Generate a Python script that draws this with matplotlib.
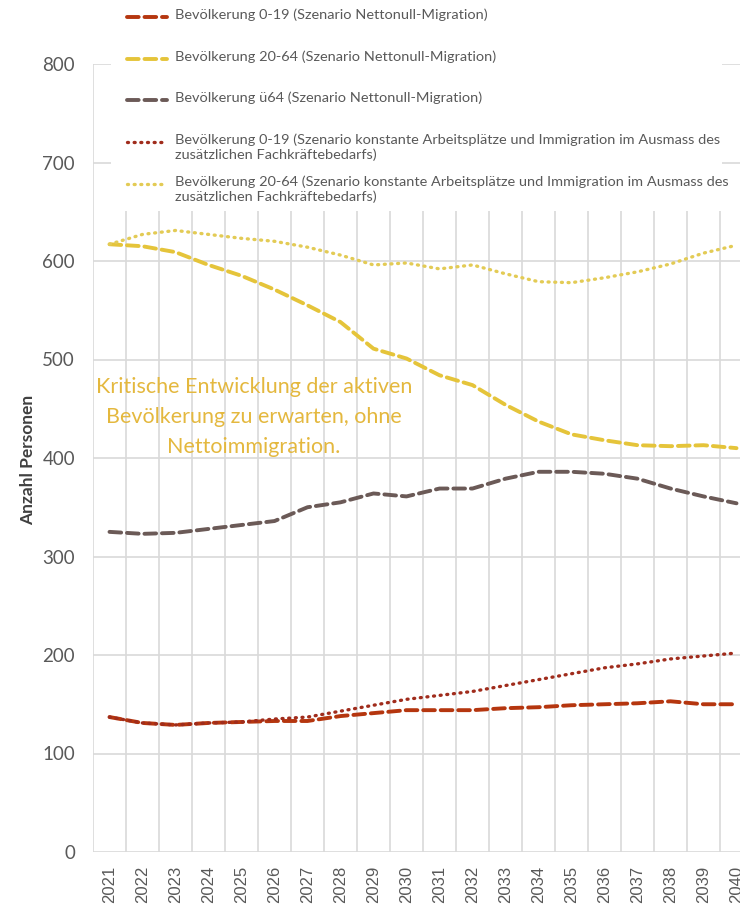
import matplotlib
matplotlib.use("Agg")
import matplotlib.pyplot as plt
from matplotlib.lines import Line2D
from matplotlib.patches import Rectangle
import numpy as np

years = [str(y) for y in range(2021, 2041)]
pop_0_19_null = [137, 131, 129, 131, 132, 133, 133, 138, 141, 144, 144, 144, 146, 147, 149, 150, 151, 153, 150, 150]
pop_20_64_null = [617, 615, 609, 596, 585, 571, 555, 538, 511, 501, 484, 474, 454, 437, 424, 418, 413, 412, 413, 410]
pop_u64_null = [325, 323, 324, 328, 332, 336, 350, 355, 364, 361, 369, 369, 379, 386, 386, 384, 379, 369, 361, 354]
pop_0_19_const = [137, 131, 129, 131, 132, 135, 137, 143, 149, 155, 159, 163, 169, 175, 181, 187, 191, 196, 199, 202]
pop_20_64_const = [617, 627, 631, 627, 623, 620, 614, 606, 596, 598, 592, 596, 587, 579, 578, 583, 589, 597, 608, 616]

labels = [
    "Bevölkerung 0-19 (Szenario Nettonull-Migration)",
    "Bevölkerung 20-64 (Szenario Nettonull-Migration)",
    "Bevölkerung ü64 (Szenario Nettonull-Migration)",
    "Bevölkerung 0-19 (Szenario konstante Arbeitsplätze und Immigration im Ausmass des\nzusätzlichen Fachkräftebedarfs)",
    "Bevölkerung 20-64 (Szenario konstante Arbeitsplätze und Immigration im Ausmass des\nzusätzlichen Fachkräftebedarfs)",
]
annotation = "Kritische Entwicklung der aktiven\nBevölkerung zu erwarten, ohne\nNettoimmigration."
y_label = "Anzahl Personen"

C_RED = "#B5360F"
C_YEL = "#E5C43A"
C_BRN = "#6B5A57"
C_RED_DOT = "#A02C1C"
C_YEL_DOT = "#E3CB55"

W, H = 740, 909
fig = plt.figure(figsize=(W / 100, H / 100), dpi=100)
left, right, top, bottom = 93, 753, 64, 852
ax = fig.add_axes([left / W, 1 - bottom / H, (right - left) / W, (bottom - top) / H])

x = np.arange(len(years))
dash = (0, (3.0, 1.5))
dot = (0, (0.3, 1.7))
series = [
    (pop_0_19_null, C_RED, dash, 2.8),
    (pop_20_64_null, C_YEL, dash, 2.8),
    (pop_u64_null, C_BRN, dash, 2.8),
    (pop_0_19_const, C_RED_DOT, dot, 2.4),
    (pop_20_64_const, C_YEL_DOT, dot, 2.4),
]
for vals, col, ls, lw in series:
    ax.plot(x, vals, color=col, linestyle=ls, linewidth=lw,
            dash_capstyle="round", solid_capstyle="round", zorder=3)

ax.set_xlim(-0.5, len(years) - 0.5)
ax.set_ylim(0, 800)
ax.set_yticks(np.arange(0, 801, 100))
ax.set_xticks(x)
ax.set_xticks(np.arange(-0.5, len(years) + 0.5, 1), minor=True)
ax.set_xticklabels(years, rotation=90, fontsize=12, color="#595959", family="Liberation Sans")
ax.tick_params(axis="x", which="both", length=0, pad=10)
ax.tick_params(axis="y", length=0, pad=13, labelsize=13.5, labelcolor="#595959")
for t in ax.get_yticklabels():
    t.set_family(["Lato", "DejaVu Sans"])
ax.grid(True, axis="y", which="major", color="#D9D9D9", linewidth=1.2, zorder=0)
ax.grid(True, axis="x", which="minor", color="#D9D9D9", linewidth=1.2, zorder=0)
for s in ax.spines.values():
    s.set_visible(False)
ax.set_axisbelow(True)

fig.text(28 / W, 1 - 460 / H, y_label, rotation=90, ha="center", va="center",
         fontsize=12.5, color="#404040", family=["Lato", "DejaVu Sans"], fontweight="bold")

ax.text(254 / W, 1 - 417 / H, annotation, transform=fig.transFigure, ha="center", va="center",
        fontsize=15.5, color="#E4B83E", family=["Lato", "DejaVu Sans"], linespacing=1.6, zorder=4)

# legend box
fig.add_artist(Rectangle((111 / W, 1 - 211 / H), (722 - 111) / W, 211 / H,
                         transform=fig.transFigure, facecolor="white", edgecolor="none", zorder=5))
ys = [17, 59, 100, 142, 184]
texts = []
for (vals, col, ls, lw), lab, yy in zip(series, labels, ys):
    fy = 1 - yy / H
    fig.add_artist(Line2D([127 / W, 167 / W], [fy, fy], transform=fig.transFigure, color=col,
                          linestyle=ls, linewidth=lw, dash_capstyle="round", zorder=6))
    t = fig.text(175 / W, fy + 8.5 / H, lab, ha="left", va="top", fontsize=9,
                 color="#595959", family=["Lato", "DejaVu Sans"], linespacing=1.25, zorder=7)
    texts.append(t)

fig.canvas.draw()
r = fig.canvas.get_renderer()
wid = texts[3].get_window_extent(r).width
scale = 545 / wid
for t in texts:
    t.set_fontsize(9 * scale)

fig.savefig("out.png", dpi=100)
